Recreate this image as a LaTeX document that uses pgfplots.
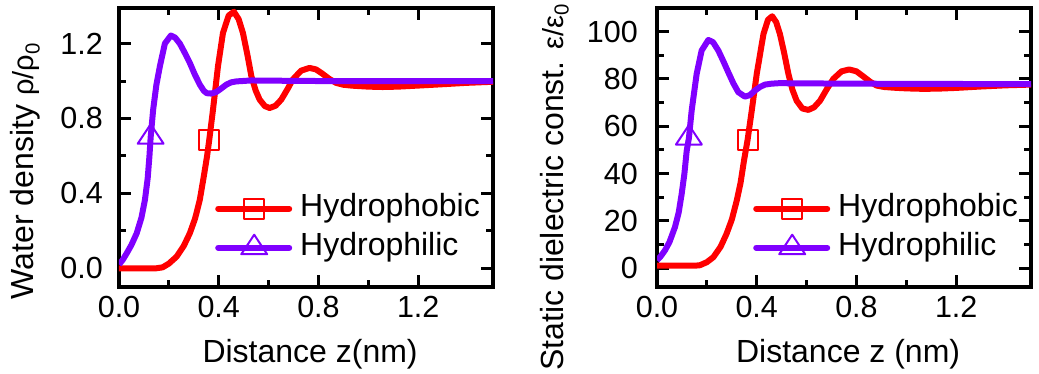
\documentclass[border=0pt]{standalone}
\usepackage{fontspec}
\setmainfont{Liberation Sans}
\usepackage{pgfplots}
\pgfplotsset{compat=1.18}

\definecolor{phob}{RGB}{255,0,0}
\definecolor{phil}{RGB}{128,0,255}

\pgfplotsset{
  panel/.style={
    scale only axis, width=374pt, height=279pt,
    xmin=0, xmax=1.5,
    xtick={0,0.4,0.8,1.2}, minor x tick num=1,
    minor y tick num=1,
    tick align=inside,
    major tick length=12pt, minor tick length=7pt,
    tick style={black, line width=3pt},
    axis line style={line width=4pt},
    label style={font=\fontsize{32}{38}\selectfont},
    tick label style={font=\fontsize{30.5}{36}\selectfont},
    /pgf/number format/assume math mode=true,
    xticklabel style={anchor=base, inner sep=0pt, yshift=-31pt,
      /pgf/number format/fixed, /pgf/number format/fixed zerofill,
      /pgf/number format/precision=1},
    xlabel style={at={(axis description cs:0.511,-0.269)}, anchor=base},
    legend style={draw=none, fill=none, inner sep=0pt,
      at={(axis description cs:0.2567,0.335)}, anchor=north west,
      row sep=9pt, column sep=8pt,
      font=\fontsize{32}{38}\selectfont,
      nodes={inner sep=0pt, text height=23pt, text depth=7pt}},
    legend cell align=left,
    legend image code/.code={
      \draw[##1, line cap=round, mark indices={2}]
        plot coordinates {(0pt,0pt) (36pt,0pt) (71pt,0pt)};},
  },
  curve/.style={line width=6pt, line join=round},
  phobmark/.style={mark=square, mark size=10pt,
    mark options={solid, fill=white, line width=2pt}},
  philmark/.style={mark=triangle, mark size=13pt,
    mark options={solid, fill=white, line width=2pt, xscale=1.15}},
}

\begin{document}
\begin{tikzpicture}[font=\fontsize{32}{38}\selectfont]
\useasboundingbox (-119pt,-87pt) rectangle (920pt,287pt);

% Water density profiles
\begin{axis}[panel, at={(0pt,0pt)}, anchor=south west,
  ymin=-0.1, ymax=1.39, ytick={0,0.4,0.8,1.2},
  yticklabel style={anchor=east, inner sep=0pt, xshift=-16pt,
    /pgf/number format/fixed, /pgf/number format/fixed zerofill,
    /pgf/number format/precision=1},
  ylabel style={at={(axis description cs:-0.2273,0.4158)}, anchor=base},
  xlabel={Distance z(nm)},
  ylabel={Water density {\fontsize{29}{29}\selectfont ρ/ρ\textsubscript{0}}}]
\addplot[phob, curve, phobmark, mark indices={14}] coordinates {
  (0,0) (0.05,0) (0.10,0) (0.15,0) (0.175,0.005) (0.20,0.025) (0.231,0.062)
  (0.26,0.12) (0.284,0.187) (0.305,0.265) (0.324,0.365) (0.34,0.49)
  (0.353,0.597) (0.362,0.686) (0.377,0.847) (0.397,1.079) (0.417,1.257)
  (0.44,1.35) (0.461,1.37) (0.48,1.33) (0.497,1.257) (0.515,1.14)
  (0.531,1.025) (0.548,0.95) (0.564,0.901) (0.585,0.866) (0.604,0.856)
  (0.628,0.868) (0.651,0.901) (0.675,0.955) (0.697,1.008) (0.73,1.055)
  (0.764,1.07) (0.79,1.062) (0.817,1.038) (0.845,1.01) (0.871,0.99)
  (0.90,0.98) (0.937,0.975) (1.0,0.97) (1.057,0.968) (1.12,0.97)
  (1.19,0.975) (1.3,0.983) (1.39,0.99) (1.5,0.996)
};
\addlegendentry{Hydrophobic}
\addplot[phil, curve, philmark, mark indices={10}] coordinates {
  (0,0.02) (0.015,0.045) (0.031,0.08) (0.05,0.125) (0.071,0.187)
  (0.09,0.27) (0.104,0.365) (0.115,0.48) (0.122,0.597) (0.127,0.70)
  (0.137,0.847) (0.15,0.98) (0.164,1.079) (0.184,1.2) (0.208,1.243)
  (0.225,1.232) (0.244,1.2) (0.264,1.15) (0.284,1.097) (0.304,1.035)
  (0.324,0.981) (0.34,0.948) (0.352,0.935) (0.37,0.933) (0.391,0.942)
  (0.41,0.96) (0.431,0.981) (0.45,0.993) (0.471,0.998) (0.53,1.003)
  (0.6,1.002) (0.8,1.0) (1.0,1.0) (1.5,1.0)
};
\addlegendentry{Hydrophilic}
\end{axis}

% Static dielectric constant profiles
\begin{axis}[panel, at={(538pt,0pt)}, anchor=south west,
  ymin=-8, ymax=110, ytick={0,20,40,60,80,100},
  yticklabel style={anchor=east, inner sep=0pt, xshift=-19pt},
  ylabel style={at={(axis description cs:-0.2513,0.358)}, anchor=base},
  xlabel={Distance z (nm)},
  ylabel={Static dielectric const. {\fontsize{29}{29}\selectfont ε/ε\textsubscript{0}}}]
\addplot[phob, curve, phobmark, mark indices={14}] coordinates {
  (0,1) (0.05,1) (0.10,1) (0.15,1) (0.172,1.2) (0.20,2.5) (0.226,4.6)
  (0.255,9) (0.279,14.5) (0.30,20.5) (0.320,28.6) (0.335,36) (0.349,45.5)
  (0.363,54.0) (0.380,66.6) (0.40,82.1) (0.427,99.0) (0.445,105)
  (0.462,106.5) (0.478,104) (0.493,99.0) (0.51,91) (0.527,82.1)
  (0.543,75.5) (0.56,70.8) (0.583,67.5) (0.607,66.9) (0.63,68)
  (0.654,70.8) (0.68,75.5) (0.707,80.0) (0.74,83.2) (0.771,84.0)
  (0.80,83.2) (0.828,81.0) (0.855,78.8) (0.881,77.2) (0.91,76.6)
  (0.948,76.3) (1.0,76.0) (1.068,75.8) (1.13,75.9) (1.20,76.2)
  (1.3,76.8) (1.4,77.3) (1.5,77.6)
};
\addlegendentry{Hydrophobic}
\addplot[phil, curve, philmark, mark indices={10}] coordinates {
  (0,3.3) (0.015,5) (0.032,7.5) (0.05,11) (0.072,17.3) (0.087,23.5)
  (0.099,31.4) (0.11,40) (0.119,49.5) (0.128,55) (0.139,66.6)
  (0.159,82.1) (0.179,92.0) (0.206,96.5) (0.225,95.5) (0.246,92.0)
  (0.266,87.5) (0.286,82.8) (0.306,78.2) (0.326,74.4) (0.353,72.5)
  (0.373,73.2) (0.393,75.1) (0.413,76.6) (0.433,77.6) (0.46,78.0)
  (0.49,78.2) (0.6,78.1) (0.8,78.0) (1.0,77.9) (1.5,77.8)
};
\addlegendentry{Hydrophilic}
\end{axis}
\end{tikzpicture}
\end{document}
